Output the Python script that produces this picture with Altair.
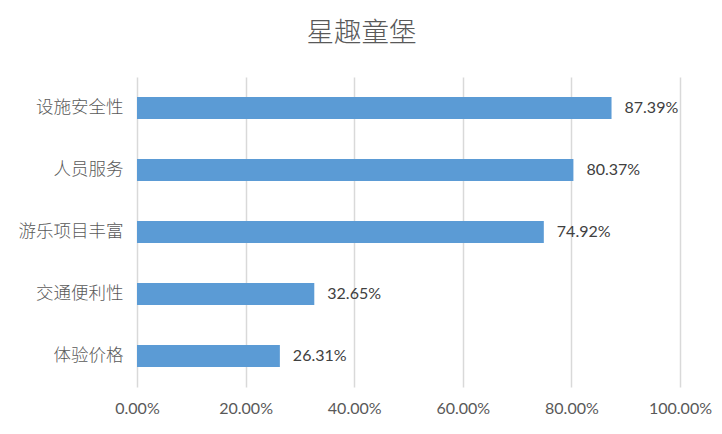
import altair as alt
import pandas as pd

categories = ["设施安全性", "人员服务", "游乐项目丰富", "交通便利性", "体验价格"]
values = [0.8739, 0.8037, 0.7492, 0.3265, 0.2631]
x_ticks = [0, 0.2, 0.4, 0.6, 0.8, 1.0]
title_text = "星趣童堡"

df = pd.DataFrame({"category": categories, "value": values})

base = alt.Chart(df).encode(
    y=alt.Y("category:N", sort=categories, title=None,
            scale=alt.Scale(paddingInner=0.0, paddingOuter=0.0),
            axis=alt.Axis(ticks=False, domain=False, labelPadding=14,
                          labelFont="Noto Sans CJK SC", labelFontSize=17.5,
                          labelColor="#595959", labelFontWeight=300)),
)

bars = base.mark_bar(color="#5B9BD5", size=22).encode(
    x=alt.X("value:Q", title=None,
            scale=alt.Scale(domain=[0, 1], nice=False),
            axis=alt.Axis(values=x_ticks, format=".2%", ticks=False, domain=False,
                          grid=True, gridColor="#d9d9d9", gridWidth=1.5,
                          labelFlush=False, labelOverlap=False,
                          labelFont="Lato", labelFontSize=16, labelColor="#595959",
                          labelFontWeight=400, labelPadding=13)),
)

labels = base.mark_text(align="left", baseline="middle", dx=13,
                        font="Lato", fontSize=16, fontWeight=400,
                        color="#404040").encode(
    x="value:Q",
    text=alt.Text("value:Q", format=".2%"),
)

chart = alt.layer(bars, labels).properties(
    width=543,
    height=310,
    title=alt.TitleParams(title_text, font="Noto Sans CJK SC", fontSize=27.5,
                          fontWeight=300, color="#595959",
                          anchor="middle", dx=-47, offset=30),
    autosize=alt.AutoSizeParams(type="none"),
    padding={"left": 129, "top": 69, "right": 34, "bottom": 39},
    background="white",
).configure_view(stroke=None)

chart.save("out.html", embed_options={"renderer": "svg", "actions": False})
